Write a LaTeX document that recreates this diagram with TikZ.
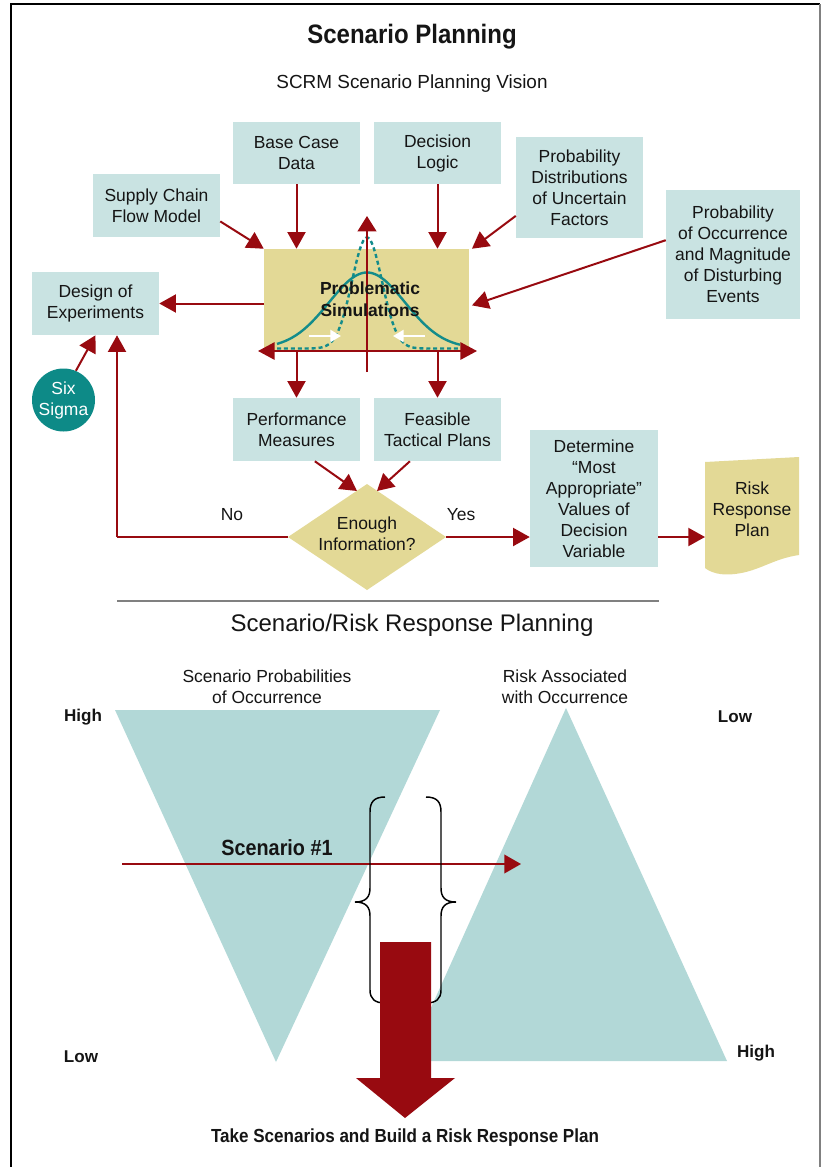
\documentclass[tikz,border=0pt]{standalone}
\usepackage{fontspec}
\setmainfont{Liberation Sans}
\newfontfamily\condf{Liberation Sans}[FakeStretch=0.9]
\usetikzlibrary{arrows.meta}
\definecolor{boxblue}{HTML}{C9E3E2}
\definecolor{triblue}{HTML}{B2D8D7}
\definecolor{tanf}{HTML}{E3D996}
\definecolor{redd}{HTML}{980A10}
\definecolor{tealc}{HTML}{138C8B}
\definecolor{sixs}{HTML}{0D8A87}
\definecolor{txt}{HTML}{151515}
\newcommand\bodyfont{\fontsize{13.1pt}{15.75pt}\selectfont}
\tikzset{
  sz/.style 2 args={minimum width=#1*0.75pt, minimum height=#2*0.75pt},
  box/.style={fill=boxblue, inner sep=0pt, align=center, font=\bodyfont, text=txt},
  lbl/.style={inner sep=0pt, align=center, font=\bodyfont, text=txt},
  bold lbl/.style={inner sep=0pt, align=center, font=\fontsize{12.8pt}{15pt}\selectfont\bfseries, text=txt},
  rline/.style={draw=redd, line width=1.5pt},
  rarrow/.style={rline, -{Triangle[length=12.5pt,width=13.5pt]}},
  warrow/.style={white, line width=1.8pt, -{Triangle[length=8pt,width=9pt]}},
}
\begin{document}
\begin{tikzpicture}[x=0.75pt,y=-0.75pt]
\useasboundingbox (0,0) rectangle (823,1167);
% frame
\draw[black, line width=0.8pt] (11,1167) -- (11,4) -- (820,4);
\draw[gray, line width=1.8pt] (820,4) -- (820,1167);

% titles
\node[inner sep=0pt, text=txt, font=\condf\fontsize{20pt}{24pt}\selectfont\bfseries] (title) at (412,37) {Scenario Planning};
\node[inner sep=0pt, text=txt, font=\fontsize{14.2pt}{17pt}\selectfont] (sub) at (412,84) {SCRM Scenario Planning Vision};

% boxes
\node[box, sz={127}{62}] (base) at (296.5,153) {Base Case\\Data};
\node[box, sz={127}{62}] (logic) at (437.5,153) {Decision\\Logic};
\node[box, sz={127}{101}] (dist) at (579.5,187.5) {Probability\\Distributions\\of Uncertain\\Factors};
\node[box, sz={127}{63}] (flow) at (156.5,205.5) {Supply Chain\\Flow Model};
\node[box, sz={134}{129}] (occ) at (733,254.5) {Probability\\of Occurrence\\and Magnitude\\of Disturbing\\Events};
\node[box, sz={127}{63}] (doe) at (95.5,303.5) {Design of\\Experiments};
\node[fill=tanf, inner sep=0pt, sz={205}{102}] (sim) at (366.5,300) {};
\node[box, sz={127}{63}] (perf) at (296.5,429.5) {Performance\\Measures};
\node[box, sz={127}{63}] (feas) at (437.5,429.5) {Feasible\\Tactical Plans};
\node[box, sz={128}{137}] (det) at (594,498.5) {Determine\\``Most\\Appropriate''\\Values of\\Decision\\Variable};
\node[circle, fill=sixs, inner sep=0pt, minimum size=63*0.75pt, text=white, align=center, font=\bodyfont] (six) at (63.5,400) {Six\\Sigma};

% diamond
\path[fill=tanf] (288,537) coordinate (dl) -- (367,484) coordinate (dt) -- (446,537) coordinate (dr) -- (367,590) coordinate (db) -- cycle;
\node[lbl] (dq) at (367,534) {Enough\\Information?};

% risk response plan document
\path[fill=tanf] (705,462) coordinate (rtl) -- (799,457) coordinate (rtr) -- (799,555) coordinate (rbr)
  .. controls (772,559) and (760,571) .. (735,574) .. controls (720,576) and (710,572) .. (705,568) coordinate (rbl) -- cycle;
\node[lbl] (rrp) at (752,509) {Risk\\Response\\Plan};
\coordinate (docl) at (705,537);

% curves inside simulation box
\draw[tealc, line width=1.8pt] plot[domain=277:460, samples=120] (\x, {348.5 - 76*exp(-((\x-367)^2)/2888)});
\draw[tealc, line width=1.8pt, dash pattern=on 3pt off 2.2pt] plot[domain=277:460, samples=160] (\x, {348.5 - 111*exp(-((\x-367)^2)/450)});
\coordinate (axl) at (258,351);
\coordinate (axr) at (477,351);
\coordinate (axb) at (367,372);
\coordinate (axt) at (367,216);
\draw[rline, {Triangle[length=12.5pt,width=13pt]}-{Triangle[length=12.5pt,width=13pt]}] (axl) -- (axr);
\draw[rline, -{Triangle[length=11.5pt,width=14pt]}] (axb) -- (axt);
\draw[warrow] (309,336) coordinate (wa1) -- (341,336) coordinate (wa2);
\draw[warrow] (425,336) coordinate (wb1) -- (393,336) coordinate (wb2);
\node[bold lbl, font=\fontsize{13.1pt}{16.5pt}\selectfont\bfseries] (simtxt) at (370,299) {Problematic\\Simulations};

% arrows into simulation box
\draw[rarrow] (base.south) -- (base.south |- sim.north);
\draw[rarrow] (logic.south) -- (logic.south |- sim.north);
\draw[rarrow] (flow.-14) -- (sim.north west);
\draw[rarrow] (dist.204) -- ([xshift=2]sim.north east);
\draw[rarrow] (occ.168) -- ([xshift=2]sim.-3);
\draw[rarrow] (sim.west |- doe.east) -- (doe.east);
\draw[rarrow] (perf.north |- sim.south) -- (perf.north);
\draw[rarrow] (feas.north |- sim.south) -- (feas.north);
\draw[rarrow] (six.67) -- (doe.south);

% into diamond
\coordinate (din1) at (357,491);
\coordinate (din2) at (377,491);
\draw[rarrow] (perf.-60) -- (din1);
\draw[rarrow] (feas.229) -- (din2);

% no / yes
\coordinate (nocorner) at (117,537);
\draw[rline] (dl) -- (nocorner);
\draw[rarrow] (nocorner) -- (nocorner |- doe.south);
\node[lbl] (no) at (232,515) {No};
\node[lbl] (yes) at (461,515) {Yes};
\draw[rarrow] (dr) -- (det.west |- dr);
\draw[rarrow] (det.east |- dr) -- (docl);

% separator
\draw[gray, line width=0.8pt] (117,601) coordinate (sepl) -- (659,601) coordinate (sepr);
\node[inner sep=0pt, text=txt, font=\fontsize{18pt}{21pt}\selectfont] (sub2) at (412,625) {Scenario/Risk Response Planning};

% bottom part
\fill[triblue] (115,710) -- (440,710) -- (276,1062) -- cycle;
\fill[triblue] (566,708) -- (727,1061) -- (407,1061) -- cycle;
\node[lbl] (lt) at (267,687) {Scenario Probabilities\\of Occurrence};
\node[lbl] (rt) at (565,687) {Risk Associated\\with Occurrence};
\node[bold lbl] (h1) at (83,717) {High};
\node[bold lbl] (l1) at (735,717) {Low};
\node[bold lbl] (l2) at (81,1057) {Low};
\node[bold lbl] (h2) at (756,1053) {High};

% scenario arrow
\coordinate (sc1) at (122,864);
\coordinate (sc2) at (521,864);
\draw[draw=redd, line width=1.2pt, -{Triangle[length=12.5pt,width=14pt]}] (sc1) -- (sc2);
\node[inner sep=0pt, text=txt, font=\condf\fontsize{16.5pt}{19pt}\selectfont\bfseries] (sc) at (277,848) {Scenario \#1};

% braces
\draw[black, line width=1.1pt] (385,797) .. controls (374,797) and (370,802) .. (370,812) -- (370,888)
  .. controls (370,897) and (366,902) .. (355,902) .. controls (366,902) and (370,907) .. (370,916) -- (370,990)
  .. controls (370,999) and (375,1003) .. (385,1003);
\draw[black, line width=1.1pt] (426,797) .. controls (437,797) and (441,802) .. (441,812) -- (441,888)
  .. controls (441,897) and (445,902) .. (456,902) .. controls (445,902) and (441,907) .. (441,916) -- (441,990)
  .. controls (441,999) and (436,1003) .. (426,1003);

% big arrow
\fill[redd] (380,942) -- (431,942) -- (431,1078) -- (455,1078) -- (405,1118) -- (356,1078) -- (380,1078) -- cycle;
\node[inner sep=0pt, text=txt, font=\condf\fontsize{14.2pt}{17pt}\selectfont\bfseries] (cap) at (405,1138) {Take Scenarios and Build a Risk Response Plan};
\end{tikzpicture}
\end{document}
